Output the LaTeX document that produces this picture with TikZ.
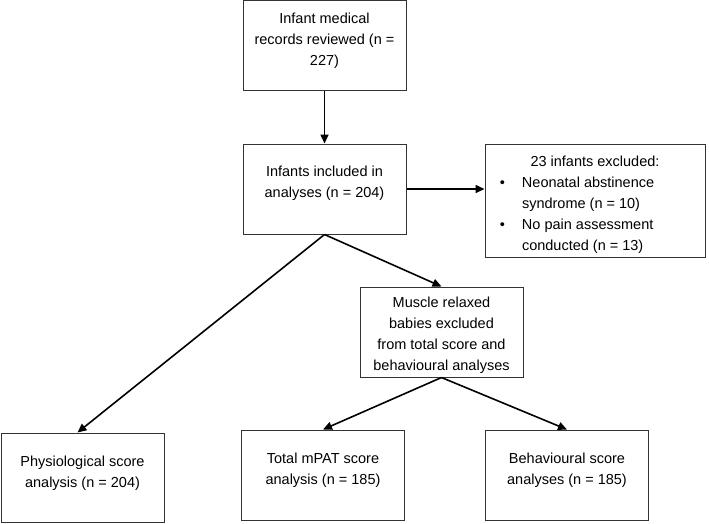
\documentclass[tikz,border=0pt]{standalone}
\usepackage{fontspec}
\setmainfont{Liberation Sans}
\usetikzlibrary{arrows.meta}

\begin{document}
\begin{tikzpicture}[x=1pt, y=-1pt,
    box/.style={draw=black!80, line width=1pt, minimum width=163, minimum height=90, inner sep=0},
    txt/.style={align=center, inner sep=0, font=\fontsize{14.5}{21}\selectfont},
    arr/.style={line width=1.6pt, -{Triangle[length=9pt, width=8pt]}}]
  \useasboundingbox (0,0) rectangle (709,523);
  % boxes
  \node[box] (rec) at (324.5,45.5) {};
  \node[box] (inc) at (324.5,189) {};
  \node[box, minimum width=220, minimum height=113] (exc) at (595,200.5) {};
  \node[box] (mus) at (441.5,332) {};
  \node[box, minimum height=89] (phy) at (82.5,477.5) {};
  \node[box] (tot) at (323,475) {};
  \node[box] (beh) at (567,475) {};
  % texts
  \node[txt] (rec-t) at (324.5,40.5) {Infant medical\\records reviewed (n =\\227)};
  \node[txt] (inc-t) at (324.5,183.5) {Infants included in\\analyses (n = 204)};
  \node[txt, align=flush left, text width=220] (exc-t) at (595,205) {%
    {\centering 23 infants excluded:\par}
    \leftskip=37pt
    \leavevmode\llap{\textbullet\hspace{17pt}}Neonatal abstinence\par
    syndrome (n = 10)\par
    \leavevmode\llap{\textbullet\hspace{17pt}}No pain assessment\par
    conducted (n = 13)\par};
  \node[txt] (mus-t) at (441.5,335.5) {Muscle relaxed\\babies excluded\\from total score and\\behavioural analyses};
  \node[txt] (phy-t) at (82.5,473) {Physiological score\\analysis (n = 204)};
  \node[txt] (tot-t) at (323,470.5) {Total mPAT score\\analysis (n = 185)};
  \node[txt] (beh-t) at (567,470.5) {Behavioural score\\analyses (n = 185)};
  % arrows
  \draw[arr] (rec) -- (inc);
  \draw[arr] (inc.east) -- (inc.east -| exc.west);
  \draw[arr] (inc.south) -- (mus.north);
  \draw[arr] (inc.south) -- ([xshift=-5]phy.north);
  \draw[arr] (mus.south) -- (tot.north);
  \draw[arr] (mus.south) -- (beh.north);
\end{tikzpicture}
\end{document}
